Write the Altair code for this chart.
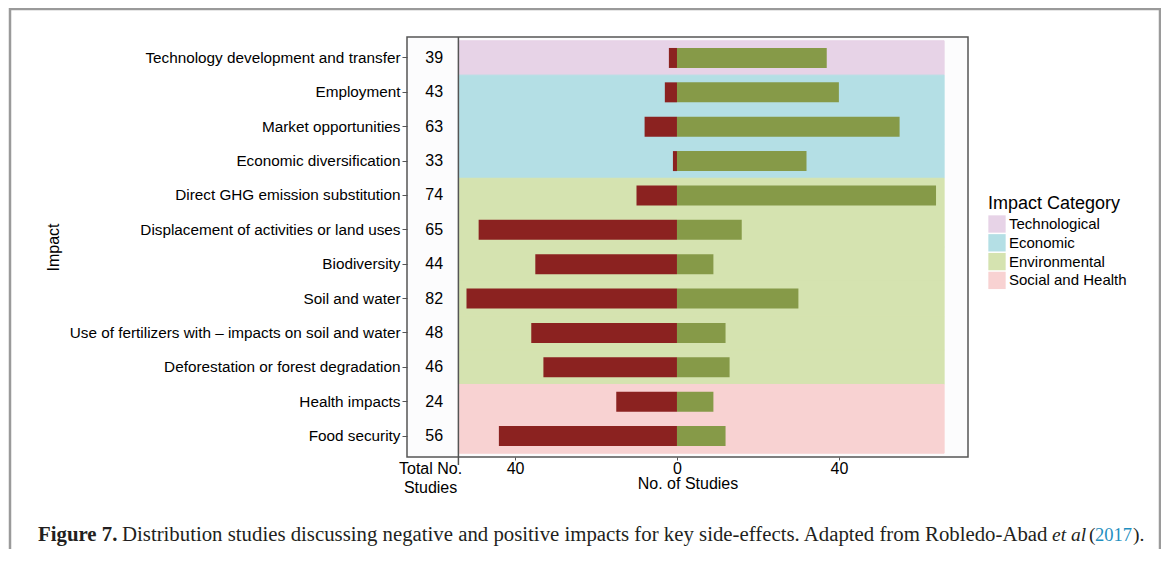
import altair as alt
import pandas as pd

impacts = [
    "Technology development and transfer",
    "Employment",
    "Market opportunities",
    "Economic diversification",
    "Direct GHG emission substitution",
    "Displacement of activities or  land uses",
    "Biodiversity",
    "Soil and water",
    "Use of fertilizers with \u2013 impacts on soil and water",
    "Deforestation or forest degradation",
    "Health impacts",
    "Food security",
]
categories = [
    "Technological",
    "Economic", "Economic", "Economic",
    "Environmental", "Environmental", "Environmental",
    "Environmental", "Environmental", "Environmental",
    "Social and Health", "Social and Health",
]
negative = [2, 3, 8, 1, 10, 49, 35, 52, 36, 33, 15, 44]
positive = [37, 40, 55, 32, 64, 16, 9, 30, 12, 13, 9, 12]
totals = [39, 43, 63, 33, 74, 65, 44, 82, 48, 46, 24, 56]

category_order = ["Technological", "Economic", "Environmental", "Social and Health"]
category_colors = ["#E7D3E7", "#B4DFE5", "#D5E3B0", "#F8D2D2"]

x_ticks = [-61, -40, -20, 0, 20, 40, 60]

df = pd.DataFrame({
    "impact": impacts,
    "category": categories,
    "negative": negative,
    "positive": positive,
    "total": totals,
})
one = alt.Data(values=[{"k": 1}])

FONT = "Liberation Sans"
SERIF = "Liberation Serif"

x_scale = alt.Scale(domain=[-66.7, 71.9], nice=False)
y_scale = alt.Scale(paddingOuter=0.11, paddingInner=0)

y_axis = alt.Axis(
    labelFontSize=15.3, labelColor="black", labelFont=FONT, labelLimit=500,
    tickSize=5, tickColor="#555", labelPadding=2, domain=False,
    bandPosition=0.5,
    gridColor="#E9EDF0", titleFontSize=16, titleFont=FONT,
    titleFontWeight="normal", titleColor="black", titleX=-346,
)
x_axis = alt.Axis(
    values=x_ticks,
    labelExpr="datum.value < -50 ? ['Total No.', 'Studies'] : (abs(datum.value) % 40 == 0 ? '' + abs(datum.value) : '')",
    labelFontSize=16, labelColor="black", labelFont=FONT, labelLineHeight=19,
    labelFlush=False, labelOverlap=False,
    tickSize=3, labelPadding=0,
    tickColor={"condition": {"test": "datum.value < -50 || abs(datum.value) % 40 != 0", "value": "transparent"}, "value": "#555"},
    gridColor={"condition": {"test": "datum.value < -50", "value": "transparent"}, "value": "#E9EDF0"},
    domain=False, titleFontSize=16, titleFont=FONT, titleFontWeight="normal",
    titleColor="black", titleY=18, titleBaseline="top",
)

y_enc = alt.Y("impact:N", sort=impacts, scale=y_scale, axis=y_axis, title="Impact")

base = alt.Chart(df)

cat_scale = alt.Scale(domain=category_order, range=category_colors)

bands = base.mark_rect(strokeWidth=1).encode(
    y=y_enc,
    x=alt.datum(-54),
    x2=alt.datum(66),
    stroke=alt.Color("category:N", scale=cat_scale, legend=None),
    color=alt.Color(
        "category:N",
        scale=cat_scale,
        title="Impact Category",
        legend=alt.Legend(
            orient="none", legendX=581, legendY=158,
            titleFontSize=18, titleFont=FONT, titleFontWeight="normal", titleColor="black",
            labelFontSize=15, labelFont=FONT, labelColor="black",
            symbolType="square", symbolSize=300, symbolStrokeWidth=0, symbolOpacity=1,
            rowPadding=0.8, labelOffset=3, titlePadding=2, padding=0,
        ),
    ),
)

neg_bars = base.transform_calculate(nx="-datum.negative").mark_bar(size=20, color="#8B2220").encode(
    y=y_enc,
    x=alt.X("nx:Q", scale=x_scale, axis=x_axis, title="No. of Studies"),
    x2=alt.datum(0),
)
pos_bars = base.mark_bar(size=20, color="#869A48").encode(
    y=y_enc,
    x=alt.X("positive:Q"),
    x2=alt.datum(0),
)
total_text = base.mark_text(fontSize=16, font=FONT, color="black").encode(
    y=y_enc,
    x=alt.datum(-60),
    text="total:Q",
)
divider = alt.Chart(one).mark_rule(color="#555", strokeWidth=1.5).encode(
    x=alt.datum(-54), y=alt.value(0), y2=alt.value(428)
)

cap_y = 504
def cap(text, x, size=20.8, align="left", weight="normal", style="normal", color="#231F20"):
    return alt.Chart(one).mark_text(
        text=text, align=align, baseline="alphabetic", font=SERIF, fontSize=size,
        fontWeight=weight, fontStyle=style, color=color,
    ).encode(x=alt.value(x), y=alt.value(cap_y))

caption = [
    cap("Figure 7.", -369, weight="bold"),
    cap("Distribution studies discussing negative and positive impacts for key side-effects. Adapted from Robledo-Abad",
        -285),
    cap("et al", 645, size=19.5, style="italic"),
    cap("(", 682, size=19.5),
    cap("2017", 688, size=18.5, color="#1F8FC0"),
    cap(").", 726, size=19.5),
]

frame = alt.Chart(one).mark_rect(fillOpacity=0, stroke="#9A9A9A", strokeWidth=2.5).encode(
    x=alt.value(-397), x2=alt.value(753), y=alt.value(-28), y2=alt.value(620)
)

chart = alt.layer(
    bands, neg_bars, pos_bars, total_text, divider, *caption, frame
).properties(
    width=561, height=420,
    autosize=alt.AutoSizeParams(type="none"),
    padding={"left": 399, "top": 29, "right": 193, "bottom": 92},
).configure_view(
    stroke="#555", strokeWidth=1.5, fill="#FCFCFD"
)

chart.save("out.html", embed_options={"renderer": "svg", "actions": False})
